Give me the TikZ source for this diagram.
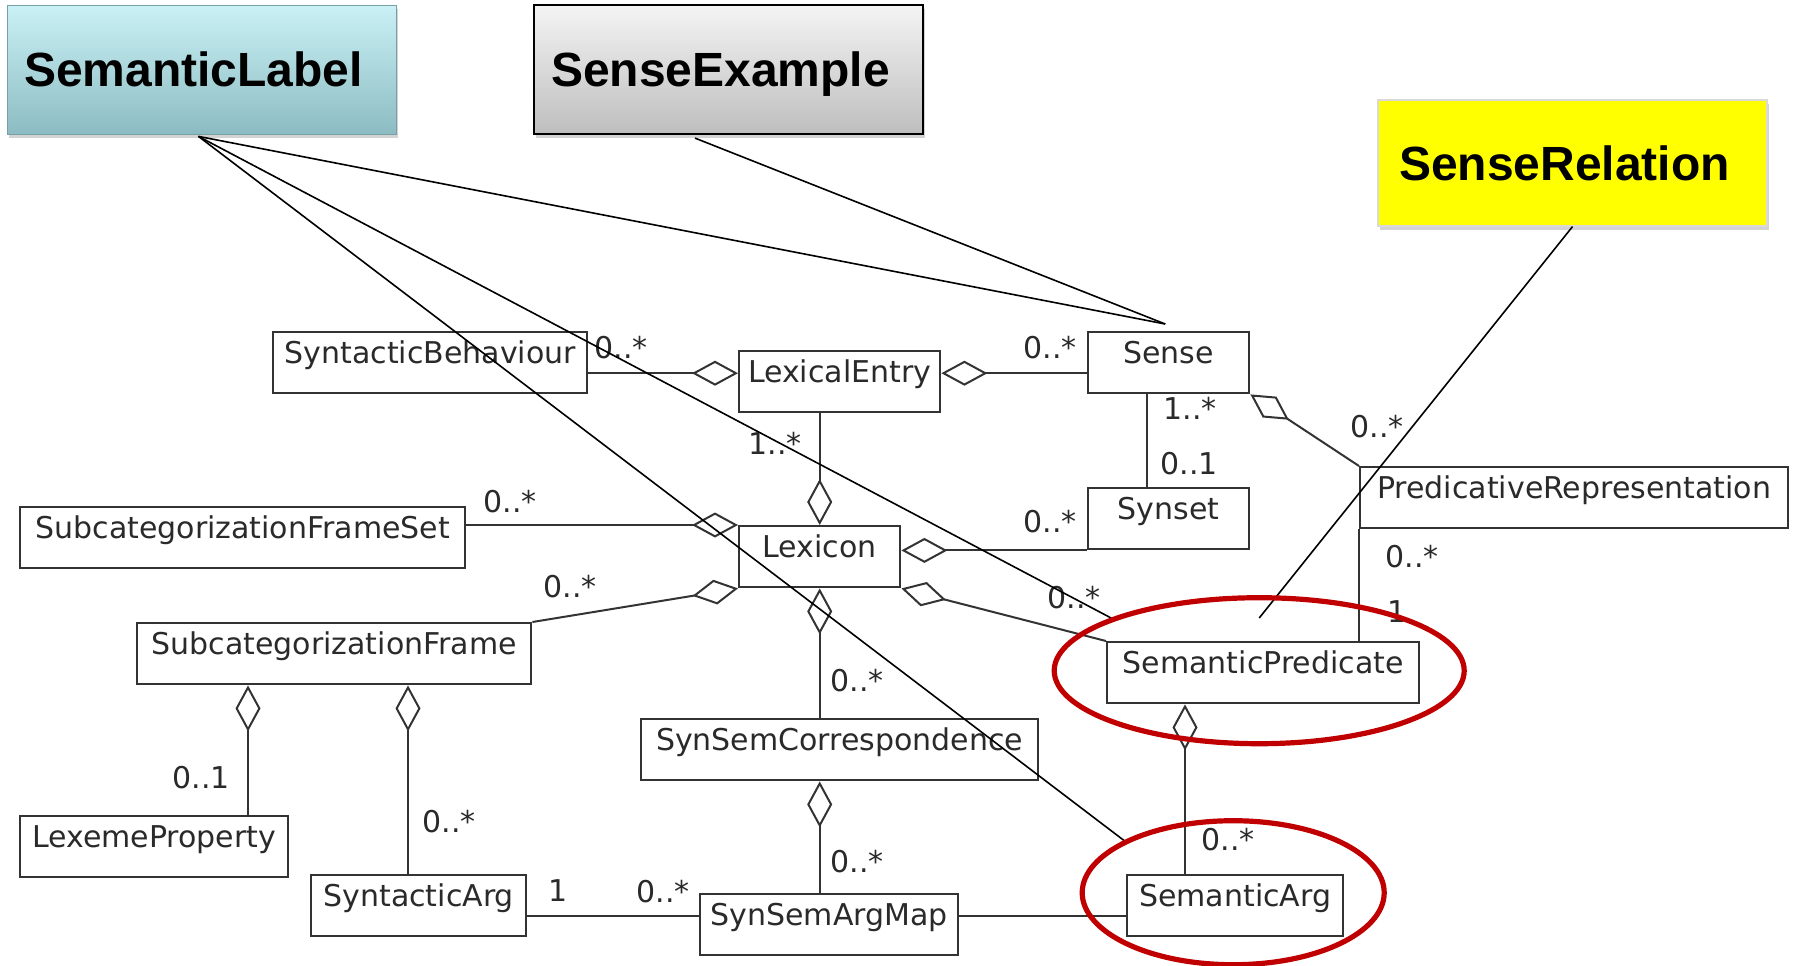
\documentclass[tikz,border=0pt]{standalone}
\usepackage{fontspec}
\setmainfont{DejaVu Sans}
\newfontfamily\calloutfamily{Liberation Sans}
\usetikzlibrary{arrows.meta,shadows,calc}

\definecolor{umlgray}{HTML}{333333}
\definecolor{umltext}{HTML}{2A2A2A}
\definecolor{hlred}{HTML}{C00000}
\definecolor{tealtop}{RGB}{202,241,245}
\definecolor{tealbot}{RGB}{140,188,194}
\definecolor{greytop}{RGB}{244,244,244}
\definecolor{greybot}{RGB}{190,190,190}
\definecolor{noteyellow}{RGB}{255,255,0}

\newcommand{\umlfont}{\fontsize{15pt}{18pt}\selectfont}
\newcommand{\calloutfont}{\calloutfamily\bfseries\fontsize{24pt}{28pt}\selectfont}

\tikzset{
  cls/.style={draw=umlgray, line width=1.2pt, fill=white, anchor=north west,
    inner xsep=0pt, inner ysep=0pt, text height=15.5pt, text depth=15pt,
    font=\umlfont, text=umltext},
  mult/.style={font=\umlfont, text=umltext, inner sep=0pt},
  assoc/.style={draw=umlgray, line width=1pt},
  agg/.style={assoc, -{Diamond[fill=white, length=23pt, width=12.5pt]}},
  callout/.style={minimum width=194.5pt, inner sep=0pt, font=\calloutfont,
    text height=17.2pt, text depth=0pt,
    drop shadow={shadow xshift=1.2pt, shadow yshift=-1.8pt, opacity=0.35}},
  pointer/.style={draw=black, line width=0.8pt},
  highlight/.style={draw=hlred, line width=2.6pt},
}

\begin{document}
\begin{tikzpicture}[x=0.5pt, y=-0.5pt]
\useasboundingbox (0,0) rectangle (1793,965);

% ---- callout boxes ----
\node[callout, minimum height=64.5pt, top color=tealtop, bottom color=tealbot,
      draw=tealbot!85!black, line width=0.4pt] (SL) at (201.5,69.5) {\kern-8pt SemanticLabel};
\node[callout, minimum height=64.5pt, top color=greytop, bottom color=greybot,
      draw=black, line width=1.1pt] (SE) at (728.5,69.5) {\kern-8pt SenseExample};
\node[callout, minimum height=63pt, fill=noteyellow, draw=black!15, line width=0.6pt]
      (SR) at (1572.5,163) {\kern-8pt SenseRelation};

% ---- classes ----
\node[cls, minimum width=157pt]   (SB)      at (272,331)  {SyntacticBehaviour};
\node[cls, minimum width=100.5pt] (LE)      at (738,350)  {LexicalEntry};
\node[cls, minimum width=80.5pt]  (Sense)   at (1087,331) {Sense};
\node[cls, minimum width=80.5pt]  (Synset)  at (1087,487) {Synset};
\node[cls, minimum width=214pt]   (PR)      at (1359,466) {PredicativeRepresentation};
\node[cls, minimum width=222.5pt] (SFS)     at (19,506)   {SubcategorizationFrameSet};
\node[cls, minimum width=80.5pt]  (Lexicon) at (738,525)  {Lexicon};
\node[cls, minimum width=197pt]   (SF)      at (136,622)  {SubcategorizationFrame};
\node[cls, minimum width=156pt]   (SP)      at (1106,641) {SemanticPredicate};
\node[cls, minimum width=198.5pt] (SSC)     at (640,718)  {SynSemCorrespondence};
\node[cls, minimum width=134pt]   (LexProp) at (19,815)   {LexemeProperty};
\node[cls, minimum width=107.5pt] (SynArg)  at (310,874)  {SyntacticArg};
\node[cls, minimum width=129pt]   (SSAM)    at (699,893)  {SynSemArgMap};
\node[cls, minimum width=108pt]   (SemArg)  at (1126,874) {SemanticArg};

% ---- attachment points ----
\coordinate (leW)  at ([yshift=4.25pt]LE.west);
\coordinate (leE)  at ([yshift=4.25pt]LE.east);
\coordinate (seSy) at ([xshift=-10.75pt]Sense.south);
\coordinate (sfA)  at ([xshift=56pt]SF.south west);
\coordinate (sfB)  at ([xshift=136pt]SF.south west);
\coordinate (amW)  at ([yshift=4.25pt]SSAM.west);
\coordinate (spA)  at ([xshift=39.5pt]SP.south west);

% ---- associations ----
\draw[agg]   (SB.east |- leW) -- (leW);
\draw[agg]   (Sense.west |- leE) -- (leE);
\draw[agg]   (LE.south -| Lexicon.north) -- (Lexicon.north);
\draw[assoc] (seSy) -- (seSy |- Synset.north);
\draw[agg]   (PR.north west) -- (Sense.south east);
\draw[agg]   (SFS.east |- Lexicon.north west) -- (Lexicon.north west);
\draw[agg]   (Synset.south west) -- (Synset.south west -| Lexicon.east);
\draw[agg]   (SF.north east) -- (Lexicon.south west);
\draw[agg]   (SP.north west) -- (Lexicon.south east);
\draw[agg]   (SSC.north -| Lexicon.south) -- (Lexicon.south);
\draw[agg]   (sfA |- LexProp.north) -- (sfA);
\draw[agg]   (sfB |- SynArg.north) -- (sfB);
\draw[agg]   (SSAM.north -| Lexicon.south) -- (SSC.south -| Lexicon.south);
\draw[assoc] (SynArg.east |- amW) -- (amW);
\draw[assoc] (amW -| SSAM.east) -- (amW -| SemArg.west);
\draw[agg]   (spA |- SemArg.north) -- (spA);
\draw[assoc] (PR.south west) -- (PR.south west |- SP.north);

% ---- multiplicities ----
\node[mult] (m1)  at (621,348)  {0..*};
\node[mult] (m2)  at (1050,348) {0..*};
\node[mult] (m3)  at (775,443)  {1..*};
\node[mult] (m4)  at (1190,408) {1..*};
\node[mult] (m5)  at (1189,464) {0..1};
\node[mult] (m6)  at (1377,427) {0..*};
\node[mult] (m7)  at (510,502)  {0..*};
\node[mult] (m8)  at (1050,522) {0..*};
\node[mult] (m9)  at (570,587)  {0..*};
\node[mult] (m10) at (1074,598) {0..*};
\node[mult] (m11) at (857,681)  {0..*};
\node[mult] (m12) at (201,778)  {0..1};
\node[mult] (m13) at (449,822)  {0..*};
\node[mult] (m14) at (857,862)  {0..*};
\node[mult] (m15) at (558,891)  {1};
\node[mult] (m16) at (663,892)  {0..*};
\node[mult] (m17) at (1228,840) {0..*};
\node[mult] (m18) at (1412,557) {0..*};
\node[mult] (m19) at (1397,612) {1};

% ---- pointer lines from the callouts ----
\coordinate (slP)    at ([xshift=-1.5pt,yshift=-1pt]SL.south);
\coordinate (seP)    at ([xshift=-16.75pt,yshift=-1.5pt]SE.south);
\coordinate (senseT) at ([xshift=-1.75pt,yshift=3.5pt]Sense.north);
\coordinate (spT)    at ([xshift=3.5pt,yshift=11pt]SP.north west);
\coordinate (saT)    at ([yshift=16pt]SemArg.north west);
\coordinate (srT)    at ([xshift=-2pt,yshift=11.5pt]SP.north);

\draw[pointer] (slP) -- (senseT);
\draw[pointer] (slP) -- (spT);
\draw[pointer] (slP) -- (saT);
\draw[pointer] (seP) -- (senseT);
\draw[pointer] (SR.south) -- (srT);

% ---- highlight rings ----
\draw[highlight] ([xshift=-2pt,yshift=1pt]SP.center) ellipse [x radius=205, y radius=73];
\draw[highlight] ($(SemArg.center)+(-2,-13)$) ellipse [x radius=151, y radius=72];
\end{tikzpicture}
\end{document}
